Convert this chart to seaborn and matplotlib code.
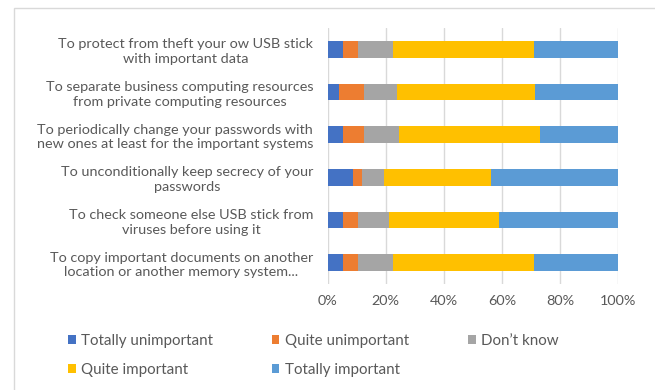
import matplotlib
matplotlib.use("Agg")
import matplotlib.pyplot as plt
from matplotlib.patches import Rectangle, Patch
from matplotlib.ticker import PercentFormatter
import numpy as np
import pandas as pd
import seaborn as sns

# Survey statements (top to bottom) and answer shares in percent
statements = [
    "To protect from theft your ow USB stick\nwith important data",
    "To separate business computing resources\nfrom private computing resources",
    "To periodically change your passwords with\nnew ones at least for the important systems",
    "To unconditionally keep secrecy of your\npasswords",
    "To check someone else USB stick from\nviruses before using it",
    "To copy important documents on another\nlocation or another memory system...",
]
answers = ["Totally unimportant", "Quite unimportant", "Don\u2019t know",
           "Quite important", "Totally important"]

totally_unimportant = [5.2, 4.0, 5.2, 8.8, 5.2, 5.2]
quite_unimportant = [5.2, 8.5, 7.3, 3.1, 5.2, 5.2]
dont_know = [12.1, 11.2, 12.2, 7.4, 10.7, 12.1]
quite_important = [48.4, 47.7, 48.2, 36.9, 37.7, 48.4]
totally_important = [29.1, 28.6, 27.1, 43.8, 41.2, 29.1]

colors = ["#4472C4", "#ED7D31", "#A5A5A5", "#FFC000", "#5B9BD5"]
text_color = "#595959"
grid_color = "#D9D9D9"
fs = 10.4

sns.set_theme(style="white")
plt.rcParams["font.family"] = ["Lato", "DejaVu Sans"]

df = pd.DataFrame({
    "statement": statements,
    answers[0]: totally_unimportant,
    answers[1]: quite_unimportant,
    answers[2]: dont_know,
    answers[3]: quite_important,
    answers[4]: totally_important,
})
cum = df[answers].cumsum(axis=1)
cum = cum.div(cum[answers[-1]], axis=0) * 100
cum["statement"] = df["statement"]

fig = plt.figure(figsize=(6.55, 3.9), dpi=100)
ax = fig.add_axes([327.7 / 655, 1 - 284 / 390, (618.3 - 327.7) / 655, (284 - 28) / 390])

# Stacked bars: draw cumulative totals from the right-most segment inward
for name, col in reversed(list(zip(answers, colors))):
    sns.barplot(data=cum, y="statement", x=name, orient="h", color=col,
                width=0.39, saturation=1, ax=ax, zorder=3, linewidth=0)

ax.set_xlim(0, 100)
ax.set_ylim(5.5, -0.5)
ax.set_xticks(np.arange(0, 101, 20))
ax.xaxis.set_major_formatter(PercentFormatter(decimals=0))
ax.grid(axis="x", color=grid_color, linewidth=1, zorder=0)
ax.grid(axis="y", visible=False)
ax.set_axisbelow(True)
for s in ax.spines.values():
    s.set_visible(False)
ax.set_xlabel("")
ax.set_ylabel("")
ax.tick_params(axis="both", length=0, colors=text_color, labelsize=fs)
ax.tick_params(axis="y", pad=10.5)
ax.tick_params(axis="x", pad=8)
for lbl in ax.get_yticklabels():
    lbl.set_multialignment("center")
    lbl.set_linespacing(1.28)

# Legend laid out row by row
handles = [Patch(facecolor=c, edgecolor="none") for c in colors]
order = [0, 3, 1, 4, 2]
fig.legend([handles[i] for i in order], [answers[i] for i in order],
           ncol=3, loc="upper left", bbox_to_anchor=(68 / 655, 1 - 334 / 390),
           frameon=False, fontsize=10.9, labelcolor=text_color,
           handlelength=0.5, handleheight=0.5, handletextpad=0.35,
           columnspacing=3.9, labelspacing=0.98, borderpad=0, borderaxespad=0)

# Chart area border
fig.patches.append(Rectangle((13.5 / 655, -0.1), 1.2, 1.1 - 8.5 / 390,
                             transform=fig.transFigure, fill=False,
                             edgecolor=grid_color, linewidth=1))

fig.savefig("out.png", dpi=100)
